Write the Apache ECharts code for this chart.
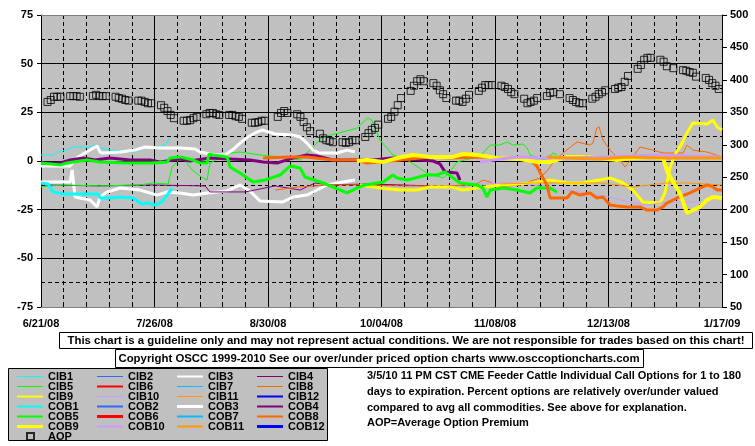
<!DOCTYPE html>
<html><head><meta charset="utf-8">
<script src="https://cdn.jsdelivr.net/npm/echarts@6/dist/echarts.min.js"></script>
<style>html,body{margin:0;padding:0;background:#fff}#c{width:755px;height:446px}</style>
</head><body><div id="c"></div>
<script>
// x = days since 6/21/08
const xLabels = ['6/21/08','7/26/08','8/30/08','10/04/08','11/08/08','12/13/08','1/17/09'];
const leftTicks = [-75,-50,-25,0,25,50,75];
const rightTicks = [50,100,150,200,250,300,350,400,450,500];

const aopDays = [2,3,4,5,6, 9,10,11,12, 16,17,18,19,20, 23,24,25,26,27, 30,31,32,33,34, 37,38,39,40,41,
 44,45,46,47,48, 51,52,53,54,55, 58,59,60,61,62, 65,66,67,68,69, 73,74,75,76, 79,80,81,82,83,
 86,87,88,89,90, 93,94,95,96,97, 100,101,102,103,104, 107,108,109,110,111, 114,115,116,117,118,
 121,122,123,124,125, 128,129,130,131,132, 135,136,137,138,139, 142,143,144,145,146, 149,150,151,152,153,
 156,157,158,160, 163,164,165,166,167, 170,171,172,173,174, 177,178,179,180,181, 184,185,186,187,188,
 191,192,193,195, 198,199,200,201,202, 205,206,207,208,209];
const aopValues = [366,369,374,374,374, 375,375,375,374, 375,377,375,375,375, 374,372,371,369,368, 368,368,366,364,364, 361,357,352,346,341,
 337,337,338,341,343, 347,349,349,347,346, 346,346,344,343,340, 334,334,335,337,337, 343,349,352,349, 347,343,335,327,321,
 317,310,307,306,304, 304,303,304,307,307, 312,318,323,326,331, 340,343,351,361,372, 383,391,398,401,398,
 395,391,384,378,372, 368,368,366,371,377, 383,388,392,392,392, 391,389,386,381,378, 371,364,366,368,372,
 375,380,381,378, 372,369,366,364,364, 371,374,378,381,384, 386,388,389,397,406, 417,423,431,434,434,
 431,428,421,418, 415,414,412,411,405, 403,400,395,391,386];

const cib1 = [[0,3.1],[3.7,3.1],[4.9,4.6],[8,5.6],[9.6,7.2],[12,7.2],[14.2,7.2],[17.3,8.2],[18.2,6.7],[21.3,5.6],[28.4,4.6],[30.5,5.6],[32.7,7.2],[36.7,7.2],[38.9,9.2],[39.8,12.3]];
const cob1 = [[0,-11.3],[2.2,-11.8],[3.7,-15.9],[6.8,-16.9],[17.6,-16.9],[18.2,-19],[21.3,-19],[24.4,-18.5],[28.4,-19],[31.1,-22.1],[32.7,-21.6],[35.2,-22.6],[37.3,-21],[38.9,-17.5],[40.4,-13.9]];
const cob3 = [[0,-2.6],[4.3,-2.6],[9,-2.6],[11,1.5],[13.5,4.1],[15.7,6.2],[17.3,7.7],[18.2,4.6],[19,4.1],[24.4,4.6],[29,5.6],[32,7.2],[36.7,6.7],[42.9,6.7],[47.5,6.2],[49,4.6],[53.7,3.1],[56.7,3.1],[59,5.6],[61.4,9.2],[63.8,12.3],[66,14.4],[68.2,15.9],[72.2,13.9],[77.7,13.3],[80,12.3],[82,9.2],[83.9,5.6],[86,4.1],[91.3,4.1],[94.4,5.6],[96.8,4.6]];
const cib3 = [[0,-10.8],[9,-10.8],[9.6,-4.6],[10.5,-18.5],[15.1,-20],[17.3,-23.6],[18.2,-18.5],[20.4,-15.9],[24.4,-13.9],[30.5,-14.9],[35.8,-17.5],[38.9,-15.9],[42.9,-16.4],[46.9,-17.5],[51.2,-16.4],[57.4,-15.4],[61.4,-12.3],[64.4,-15.4],[67.5,-20.5],[74.6,-21],[77.7,-18.5],[82,-17.5],[85.1,-14.9],[88.2,-12.3],[93.1,-10.8],[96.8,-9.8]];
const cob4 = [[0,-1],[5.9,-1],[9,0.5],[13,1.5],[16.7,0.5],[21.3,1.5],[27.4,0.5],[33.6,0.5],[36.7,-0.5],[42.9,1],[45.9,0],[52.1,1.5],[64.4,0.5],[68.5,-0.5],[72.8,-1],[77.7,1.5],[82,3.1],[85.1,2.6],[90,0.5],[102.4,0.5],[108.2,1.5],[116.9,0.5],[120.9,0],[123,-1.5],[124.6,-5.6],[128.3,-6.2],[129.2,-9.8]];
const cib4 = [[0,-12.3],[18.2,-12.8],[33.6,-12.3],[50.6,-12.8],[52.1,-15.9],[62.9,-15.9],[66,-14.9],[72.2,-12.8],[79.9,-14.9],[84.5,-11.3],[89.1,-12.3],[101.4,-11.8],[110.7,-12.3],[120,-12.8]];
const cob5 = [[0,-1],[5.9,-2.1],[8,-1],[14.2,0.5],[18.2,-0.5],[26.5,-1],[34.5,-1],[38.9,-0.5],[39.8,1.5],[42.9,2.1],[46.9,0.5],[49,-1],[51.2,-1],[51.8,3.6],[53,3.1],[57.4,2.1],[58.3,-3.1],[61.4,-6.2],[65.4,-10.8],[69.1,-9.8],[73.7,-7.2],[76.8,-2.6],[79.9,-3.6],[81.4,-8.2],[87,-11.3],[94.4,-16.4],[97.4,-13.9],[99.9,-12.3],[105.5,-10.8],[108.5,-7.2],[109.8,-8.7],[112.9,-9.8],[119,-7.2],[122.1,-7.2],[124.6,-5.6],[129.2,-11.3],[134.4,-12.3],[136.3,-13.9],[137.5,-18.5],[138.5,-14.9],[142.5,-13.9],[146.8,-14.9],[150.8,-16.4],[152.9,-13.9],[157,-13.9],[159.1,-15.9]];
const cib5 = [[0,-13.3],[6.8,-12.3],[18.2,-12.8],[30.5,-12.3],[34.5,-11.3],[39.2,-11.8],[40.4,-3.1],[43.5,2.1],[46.6,-4.6],[49,-7.7],[51.2,-9.8],[52.1,-1],[58.3,4.1],[61.4,4.6],[67.5,3.1],[73.7,2.1],[79.9,0.5],[82.9,5.6],[87,12.3],[95.3,15.9],[97.4,16.9],[100.8,22.1],[102,21],[104.5,10.8],[108.5,3.1],[112.9,0.5],[119,-6.2],[124,-8.7],[126.1,-5.6],[128.3,-0.5],[134.4,2.1],[136.3,4.1],[138.5,8.2],[141.5,8.2],[143.7,9.8],[145.5,8.2],[148.6,8.7],[149.9,6.7],[150.8,3.1],[155.4,0.5],[157.9,4.1],[159.1,3.1]];
const cob8 = [[68.5,1.5],[76.8,2.1],[82,2.1],[90,0.5],[97.4,0.5],[100.5,-1],[104.5,-0.5],[110.7,0.5],[120,2.1],[126.1,1.5],[135.4,2.1],[141.5,1.5],[147.7,1.5],[150.8,0.5],[152.9,-2.6],[154.8,-8.7],[156,-12.3],[157,-19],[162.2,-19],[163.7,-15.9],[166.2,-17.5],[169.3,-16.4],[171.4,-19],[173.3,-18.5],[175.5,-22.6],[177.6,-23.1],[180.7,-23.6],[184.7,-23.6],[186.9,-25.2],[189.9,-25.2],[191.8,-23.6],[193,-21.6],[196.1,-19],[200.1,-16.4],[203.2,-13.9],[205.4,-12.3],[207.2,-13.3],[208.5,-14.9],[210,-14.9]];
const cib8 = [[72.2,-14.9],[79.9,-13.3],[88.2,-12.3],[98.4,-12.3],[110.7,-12.8],[123,-12.8],[133.8,-12.3],[136.3,-9.8],[138.5,-10.8],[140.6,-13.3],[147.7,-12.3],[153.9,-8.7],[156.3,-4.6],[158.5,0.5],[161,4.1],[165.3,9.8],[169.3,8.2],[170.2,9.2],[171.4,16.9],[172.1,17.5],[173.3,10.8],[175.5,5.6],[178.5,0.5],[180.1,-3.1],[182.5,2.1],[184.7,7.2],[188.7,5.6],[191.8,4.1],[198,4.1],[199.2,8.2],[201,5.6],[205.4,4.6],[210,2.1]];
const cob9 = [[97.4,0],[100.5,0.5],[105.5,-0.5],[109.8,1.5],[114.7,3.1],[120,2.1],[127,2.1],[130.1,3.6],[134.4,3.1],[140.6,1.5],[147.7,1],[152.9,-0.5],[157,-0.5],[162.2,2.1],[167.1,2.1],[172.4,1.5],[177.6,0.5],[182.5,1.5],[187.8,2.1],[191.8,1.5],[193.3,-6.2],[197,-16.4],[199.2,-26.7],[203.2,-23.6],[205.4,-20],[207.2,-18.5],[210,-19]];
const cib9 = [[98.4,-12.3],[104.5,-13.9],[110.7,-14.9],[115.9,-14.9],[120,-13.3],[126.1,-13.3],[130.1,-14.9],[134.4,-13.9],[141.5,-12.3],[151.7,-11.3],[157,-9.8],[162.2,-11.3],[167.1,-11.3],[175.5,-8.7],[179.5,-11.3],[182.5,-14.9],[185.6,-21],[190.9,-21.6],[192.4,-16.4],[194,-3.1],[195.8,4.1],[197.7,9.2],[199.2,14.4],[201,19.5],[205.4,19],[207.2,21],[208.5,17.5],[210,15.9]];
const cob10 = [[135.4,-0.5],[141.5,1],[147.7,2.1],[153.9,1.5],[163.2,1.5],[172.4,2.1],[180.7,2.6],[190.9,3.1],[200.1,2.6],[210,2.1]];
const cib10 = [[132.3,-12.3],[141.5,-11.3],[147.7,-11.3],[162.2,-14.9],[167.1,-16.4],[175.5,-18.5],[182.5,-21.6],[186.9,-22.6],[190.9,-21.6],[198,-21],[203.2,-21]];
const cib11 = [[141.5,-11.8],[151.7,-11.3],[172.4,-11.3],[182.5,-13.3],[193,-11.3],[199.2,-11.3],[210,-12.3]];
const cob11 = [[156,2.1],[162.2,1.5],[172.4,1],[180.7,2.1],[193,1.5],[203.2,1.5],[210,1.5]];

const FONT = 'Liberation Sans, Arial, sans-serif';
const C = {c1:'#00FFFF', c2:'#3366FF', c3:'#FFFFFF', c4:'#800080', c5:'#00FF00', c6:'#FF0000', c7:'#00BFFF', c8:'#FF6600', c9:'#FFFF00', c10:'#CC99FF', c11:'#FF9900', c12:'#0000FF'};

function ln(name, data, color, width) {
  return {name, type:'line', data, xAxisIndex:0, yAxisIndex:0, symbol:'none', showSymbol:false,
    lineStyle:{color, width}, itemStyle:{color}, silent:true, animation:false};
}
const series = [
  ln('CIB1', cib1, C.c1, 1), ln('CIB2', [], C.c2, 1), ln('CIB3', cib3, C.c3, 3), ln('CIB4', cib4, C.c4, 1),
  ln('CIB5', cib5, C.c5, 1), ln('CIB6', [], C.c6, 2), ln('CIB7', [], C.c7, 1), ln('CIB8', cib8, C.c8, 1),
  ln('CIB9', cib9, C.c9, 3), ln('CIB10', cib10, C.c10, 1), ln('CIB11', cib11, C.c11, 1), ln('CIB12', [], C.c12, 2),
  ln('COB1', cob1, C.c1, 3), ln('COB2', [], C.c2, 2), ln('COB3', cob3, C.c3, 3), ln('COB4', cob4, C.c4, 3),
  ln('COB5', cob5, C.c5, 3), ln('COB6', [], C.c6, 3), ln('COB7', [], C.c7, 2), ln('COB8', cob8, C.c8, 3),
  ln('COB9', cob9, C.c9, 4), ln('COB10', cob10, C.c10, 3), ln('COB11', cob11, C.c11, 3), ln('COB12', [], C.c12, 3),
  {name:'AOP', type:'scatter', xAxisIndex:0, yAxisIndex:1, symbol:'rect', symbolSize:7,
   data: aopDays.map((d,i)=>[d, aopValues[i]]),
   itemStyle:{color:'rgba(0,0,0,0)', borderColor:'#000', borderWidth:1}, silent:true, z:5}
];

// legend line-sample thickness per entry
const legendThick = {CIB1:1,CIB2:1,CIB3:2,CIB4:1,CIB5:1,CIB6:2,CIB7:1,CIB8:1,CIB9:2,CIB10:1,CIB11:1,CIB12:2,
  COB1:2,COB2:2,COB3:3,COB4:2,COB5:2,COB6:3,COB7:2,COB8:2,COB9:3,COB10:2,COB11:2,COB12:3};
const lbl = {fontFamily:FONT, fontWeight:'bold', fontSize:11, color:'#000'};
function legCol(left, names) {
  return {show:true, orient:'vertical', left, top:371, padding:0, itemGap:-1, itemWidth:26, itemHeight:10,
    selectedMode:false, symbolKeepAspect:true,
    data:names.map(n=>({name:n, icon:'path://M0,0H26V'+legendThick[n]+'H0Z'})),
    textStyle:Object.assign({lineHeight:10}, lbl)};
}

const chart = echarts.init(document.getElementById('c'), null, {renderer:'canvas'});
chart.setOption({
  animation:false,
  backgroundColor:'#FFFFFF',
  grid:{left:41, top:15, right:33, bottom:139, show:true, backgroundColor:'#C0C0C0', borderWidth:0, containLabel:false},
  xAxis:[
    {type:'value', min:0, max:210, interval:35, position:'bottom',
     axisLine:{show:true, onZero:false, lineStyle:{color:'#808080', width:1}},
     axisTick:{show:true, inside:true, length:5, lineStyle:{color:'#000'}},
     minorTick:{show:true, splitNumber:5, length:3, lineStyle:{color:'#000'}},
     axisLabel:Object.assign({margin:11, formatter:(v)=>xLabels[Math.round(v/35)]}, lbl),
     splitLine:{show:true, lineStyle:{color:'#000', width:1, type:'solid'}}},
    {type:'value', min:0, max:210, interval:7, position:'top',
     axisLine:{show:true, onZero:false, lineStyle:{color:'#808080', width:1}},
     axisTick:{show:false}, axisLabel:{show:false},
     splitLine:{show:true, lineStyle:{color:'#000', width:1, type:[4,3]}}}
  ],
  yAxis:[
    {type:'value', min:leftTicks[0], max:leftTicks[leftTicks.length-1], interval:25, position:'left',
     axisLine:{show:true, onZero:false, lineStyle:{color:'#000'}},
     axisTick:{show:true, length:4, lineStyle:{color:'#000'}},
     axisLabel:Object.assign({margin:8}, lbl),
     splitLine:{show:true, showMinLine:false, showMaxLine:false, lineStyle:{color:'#000', width:1}}},
    {type:'value', min:rightTicks[0], max:rightTicks[rightTicks.length-1], interval:50, position:'right',
     axisLine:{show:true, onZero:false, lineStyle:{color:'#000'}},
     axisTick:{show:true, length:5, lineStyle:{color:'#000'}},
     axisLabel:Object.assign({margin:8}, lbl),
     splitLine:{show:false}},
    {type:'value', min:-75, max:75, interval:12.5, position:'left',
     axisLine:{show:false, onZero:false}, axisTick:{show:false}, axisLabel:{show:false},
     splitLine:{show:true, showMinLine:false, showMaxLine:false, lineStyle:{color:'#000', width:1, type:[4,3]}}}
  ],
  legend:[
    legCol(17, ['CIB1','CIB5','CIB9','COB1','COB5','COB9']),
    legCol(97, ['CIB2','CIB6','CIB10','COB2','COB6','COB10']),
    legCol(177, ['CIB3','CIB7','CIB11','COB3','COB7','COB11']),
    legCol(257, ['CIB4','CIB8','CIB12','COB4','COB8','COB12']),
    {show:true, orient:'vertical', left:26, top:431, padding:0, itemWidth:7, itemHeight:7, selectedMode:false,
     data:[{name:'AOP', icon:'rect'}], textStyle:Object.assign({lineHeight:10, padding:[0,0,0,9]}, lbl)}
  ],
  graphic:[
    {type:'rect', z:0, shape:{x:8.5, y:368.5, width:319, height:72}, style:{fill:'#C0C0C0', stroke:'#000', lineWidth:1}},
    {type:'rect', z:0, shape:{x:59.5, y:332.5, width:693, height:16}, style:{fill:'#fff', stroke:'#000', lineWidth:1}},
    {type:'text', z:1, x:406, y:341, style:{text:'This chart is a guideline only and may not represent actual conditions. We are not responsible for trades based on this chart!', font:'bold 11.4px '+FONT, fill:'#000', align:'center', verticalAlign:'middle'}},
    {type:'rect', z:0, shape:{x:115.5, y:349.5, width:528, height:18}, style:{fill:'#fff', stroke:'#000', lineWidth:1}},
    {type:'text', z:1, x:379, y:358.5, style:{text:'Copyright OSCC 1999-2010 See our over/under priced option charts www.osccoptioncharts.com', font:'bold 11.4px '+FONT, fill:'#000', align:'center', verticalAlign:'middle'}},
    {type:'text', z:1, x:367, y:376, style:{text:'3/5/10 11 PM CST CME Feeder Cattle Individual Call Options for 1 to 180', font:'bold 11px '+FONT, fill:'#000', align:'left', verticalAlign:'middle'}},
    {type:'text', z:1, x:367, y:392, style:{text:'days to expiration. Percent options are relatively over/under valued', font:'bold 11px '+FONT, fill:'#000', align:'left', verticalAlign:'middle'}},
    {type:'text', z:1, x:367, y:408, style:{text:'compared to avg all commodities. See above for explanation.', font:'bold 11px '+FONT, fill:'#000', align:'left', verticalAlign:'middle'}},
    {type:'text', z:1, x:367, y:423, style:{text:'AOP=Average Option Premium', font:'bold 11px '+FONT, fill:'#000', align:'left', verticalAlign:'middle'}}
  ],
  series
});
</script></body></html>
